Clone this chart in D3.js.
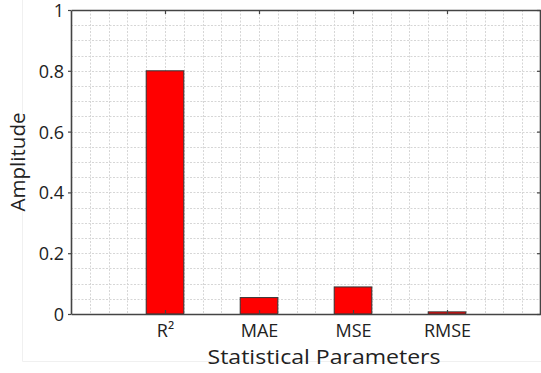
<!DOCTYPE html>
<html>
<head>
<meta charset="utf-8">
<script src="https://cdn.jsdelivr.net/npm/d3@7"></script>
<style>
  body { margin: 0; background: #fff; }
  svg { display: block; }
</style>
</head>
<body>
<svg id="chart" width="541" height="373"></svg>
<script>
var categories = ["R²", "MAE", "MSE", "RMSE"];
var values = [0.8, 0.054, 0.089, 0.007];
var yTicks = [0, 0.2, 0.4, 0.6, 0.8, 1];
var yTickLabels = ["0", "0.2", "0.4", "0.6", "0.8", "1"];

function draw() {
  var svg = d3.select("#chart"),
      mLeft = 71, mTop = 10, mRight = 541, mBottom = 314;

  var x = d3.scaleLinear().domain([0, 5]).range([mLeft, mRight]);
  var y = d3.scaleLinear().domain([0, 1]).range([mBottom, mTop]);

  // faint outer frame
  svg.append("path")
    .attr("d", "M22.5,0V361.5H541")
    .style("fill", "none")
    .style("stroke", "#f0f0f0")
    .style("stroke-width", 1);

  // dotted grid
  var g = svg.append("g");
  g.selectAll(".vgrid")
    .data(d3.range(1, 25).map(function(i) { return i / 5; }))
    .enter().append("line")
    .attr("x1", function(d) { return Math.round(x(d)) + 0.5; })
    .attr("x2", function(d) { return Math.round(x(d)) + 0.5; })
    .attr("y1", mTop).attr("y2", mBottom)
    .style("stroke", "#d6d6d6")
    .style("stroke-dasharray", "2,1.5");
  g.selectAll(".hgrid")
    .data(d3.range(1, 20).map(function(i) { return i / 20; }))
    .enter().append("line")
    .attr("y1", function(d) { return Math.round(y(d)) + 0.5; })
    .attr("y2", function(d) { return Math.round(y(d)) + 0.5; })
    .attr("x1", mLeft).attr("x2", mRight)
    .style("stroke", "#d6d6d6")
    .style("stroke-dasharray", "2,1.5");

  // bars
  var bw = 0.4;
  svg.append("g").selectAll("rect")
    .data(values)
    .enter().append("rect")
    .attr("x", function(d, i) { return x(i + 1 - bw / 2); })
    .attr("y", function(d) { return y(d); })
    .attr("width", x(bw) - x(0))
    .attr("height", function(d) { return y(0) - y(d); })
    .style("fill", "#ff0000")
    .style("stroke", "#333")
    .style("stroke-width", 1);

  // axes
  var axisColor = "#444";
  var xb = svg.append("g")
    .attr("transform", "translate(0," + mBottom + ")")
    .call(d3.axisBottom(x).tickValues([1, 2, 3, 4])
      .tickFormat(function(d) { return categories[d - 1]; })
      .tickSizeInner(-4).tickSizeOuter(0).tickPadding(10));
  var xt = svg.append("g")
    .attr("transform", "translate(0," + mTop + ")")
    .call(d3.axisTop(x).tickValues([1, 2, 3, 4])
      .tickFormat("").tickSizeInner(-4).tickSizeOuter(0));
  var yl = svg.append("g")
    .attr("transform", "translate(" + mLeft + ",0)")
    .call(d3.axisLeft(y).tickValues(yTicks)
      .tickFormat(function(d, i) { return yTickLabels[i]; })
      .tickSizeInner(3).tickSizeOuter(0).tickPadding(4));
  var yr = svg.append("g")
    .attr("transform", "translate(" + (mRight - 1) + ",0)")
    .call(d3.axisRight(y).tickValues(yTicks)
      .tickFormat("").tickSizeInner(-3).tickSizeOuter(0));

  [xb, xt, yl, yr].forEach(function(a) {
    a.select(".domain").style("stroke", axisColor).style("stroke-width", 1.6);
    a.selectAll(".tick line").style("stroke", axisColor).style("stroke-width", 1.2);
    a.selectAll("text")
      .style("font-family", "Open Sans")
      .style("font-size", "18px")
      .style("fill", "#222");
  });
  yl.selectAll("text").attr("dy", "0.36em");

  // axis titles
  svg.append("text")
    .attr("x", 324)
    .attr("y", 364)
    .attr("text-anchor", "middle")
    .attr("textLength", 233)
    .attr("lengthAdjust", "spacingAndGlyphs")
    .style("font-family", "Open Sans")
    .style("font-size", "20px")
    .style("fill", "#222")
    .text("Statistical Parameters");

  svg.append("text")
    .attr("transform", "translate(25,162) rotate(-90)")
    .attr("text-anchor", "middle")
    .attr("textLength", 99)
    .attr("lengthAdjust", "spacingAndGlyphs")
    .style("font-family", "Open Sans")
    .style("font-size", "20px")
    .style("fill", "#222")
    .text("Amplitude");
}

draw();
</script>
</body>
</html>
